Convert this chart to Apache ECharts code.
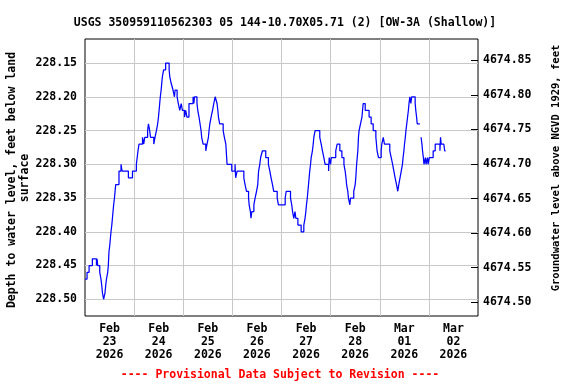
<!DOCTYPE html>
<html>
<head>
<meta charset="utf-8">
<script src="https://cdn.jsdelivr.net/npm/echarts@6/dist/echarts.min.js"></script>
<style>
html,body{margin:0;padding:0;background:#fff;}
#chart{width:576px;height:384px;}
</style>
</head>
<body>
<div id="chart"></div>
<script>
// Hours since 2026-02-23 00:00 and depth to water level (ft below land surface); null = data gap
const hours = [0,1.0,2.0,3.6,5.6,5.9,6.2,7.2,7.8,8.2,8.5,9.1,9.8,10.1,10.5,11.1,11.4,11.7,12.1,12.4,12.7,13.1,13.4,13.7,14.0,14.4,14.7,15.0,16.6,17.6,18.1,21.2,23.2,25.1,25.5,25.9,26.4,28.1,28.7,29.2,30.6,31.0,31.6,32.0,33.6,34.2,34.9,35.5,35.9,36.2,36.5,36.8,37.2,37.5,37.8,38.4,39.4,41.1,41.4,42.1,43.0,43.7,44.0,45.0,45.6,46.3,47.0,47.6,48.6,49.2,49.8,50.8,52.8,53.2,53.5,54.7,55.1,55.7,56.2,56.7,57.0,57.7,59.0,59.6,60.3,60.6,61.0,61.6,62.3,62.9,63.6,64.5,64.9,65.2,65.8,67.5,68.1,68.8,69.0,69.2,69.4,71.7,73.3,73.6,74.3,77.6,78.2,78.9,79.9,80.2,80.8,81.1,81.5,82.5,83.1,83.8,84.4,84.6,84.8,85.4,85.8,86.7,88.3,89.6,90.3,90.9,91.6,92.2,93.9,94.5,97.8,98.3,100.4,101.0,101.4,102.0,102.6,103.0,104.0,105.6,106.9,107.5,107.9,108.2,108.6,108.9,109.2,109.5,109.8,110.2,110.5,111.1,111.5,111.8,112.4,114.7,115.4,116.0,116.7,117.3,119.0,119.3,120.0,120.3,122.5,123.2,124.5,125.5,126.5,127.1,127.5,127.8,128.4,128.7,129.4,129.7,131.3,132.0,132.3,132.7,133.0,133.3,133.6,133.9,134.6,135.3,135.6,135.9,136.9,138.8,139.8,140.8,142.1,142.4,142.7,143.4,144.7,145.0,145.7,146.3,148.9,149.6,150.3,150.9,151.5,152.2,152.8,153.3,153.9,154.5,155.1,155.4,155.8,156.1,156.5,156.8,157.2,157.6,158.0,158.3,158.7,159.2,159.6,161.3,161.6,162.0,162.3,163.0,163.6,164.2,164.6,164.9,165.3,165.6,166.3,166.6,167.3,167.6,168.2,170.1,171.1,173.4,173.7,174.0,175.3,175.7,176.2];
const depth = [228.47,228.46,228.45,228.44,228.45,228.44,228.45,228.46,228.47,228.48,228.49,228.50,228.49,228.48,228.47,228.46,228.45,228.43,228.42,228.41,228.40,228.39,228.38,228.37,228.36,228.35,228.34,228.33,228.31,228.30,228.31,228.32,228.31,228.30,228.29,228.28,228.27,228.26,228.27,228.26,228.25,228.24,228.25,228.26,228.27,228.26,228.25,228.24,228.23,228.22,228.21,228.20,228.19,228.18,228.17,228.16,228.15,228.16,228.17,228.18,228.19,228.20,228.19,228.20,228.21,228.22,228.21,228.22,228.23,228.22,228.23,228.21,228.20,228.21,228.20,228.21,228.22,228.23,228.24,228.25,228.26,228.27,228.28,228.27,228.26,228.25,228.24,228.23,228.22,228.21,228.20,228.21,228.22,228.23,228.24,228.25,228.26,228.27,228.28,228.29,228.30,228.31,228.30,228.32,228.31,228.32,228.33,228.34,228.35,228.36,228.37,228.38,228.37,228.36,228.35,228.34,228.33,228.32,228.31,228.30,228.29,228.28,228.29,228.30,228.31,228.32,228.33,228.34,228.35,228.36,228.35,228.34,228.35,228.36,228.37,228.38,228.37,228.38,228.39,228.40,228.39,228.38,228.37,228.36,228.35,228.34,228.33,228.32,228.31,228.30,228.29,228.28,228.27,228.26,228.25,228.26,228.27,228.28,228.29,228.30,228.31,228.29,228.30,228.29,228.28,228.27,228.28,228.29,228.30,228.31,228.32,228.33,228.34,228.35,228.36,228.35,228.34,228.33,228.32,228.30,228.29,228.28,228.26,228.25,228.24,228.23,228.22,228.21,228.22,228.23,228.24,228.25,228.26,228.27,228.28,228.29,228.28,228.27,228.26,228.27,228.28,228.29,228.30,228.31,228.32,228.33,228.34,228.33,228.32,228.31,228.30,228.29,228.28,228.27,228.26,228.25,228.24,228.23,228.22,228.21,228.20,228.21,228.20,228.21,228.22,228.23,228.24,228.24,null,228.26,228.27,228.28,228.29,228.30,228.29,228.30,228.29,228.30,228.29,228.28,228.27,228.28,228.26,228.27,228.27,228.28,228.28];

const leftTicks = [228.15,228.20,228.25,228.30,228.35,228.40,228.45,228.50];
const rightTicks = [4674.50,4674.55,4674.60,4674.65,4674.70,4674.75,4674.80,4674.85];
const dayLines = [24,48,72,96,120,144,168];
const dateLabelPos = [12,36,60,84,108,132,156,180];
const dateLabels = ['Feb\n23\n2026','Feb\n24\n2026','Feb\n25\n2026','Feb\n26\n2026','Feb\n27\n2026','Feb\n28\n2026','Mar\n01\n2026','Mar\n02\n2026'];

const FONT = '"DejaVu Sans Mono", "Liberation Mono", monospace';
const chart = echarts.init(document.getElementById('chart'), null, {renderer: 'canvas'});
const data = hours.map((h, i) => [h, depth[i] === null ? '-' : depth[i]]);

chart.setOption({
  animation: false,
  backgroundColor: '#fff',
  title: {
    text: 'USGS 350959110562303 05 144-10.70X05.71 (2) [OW-3A (Shallow)]',
    left: 280, top: 12, textAlign: 'center',
    textStyle: {fontFamily: FONT, fontWeight: 'bold', fontSize: 11.5, color: '#000'}
  },
  grid: {left: 85, right: 98, top: 39, bottom: 68, show: true, borderColor: '#000', borderWidth: 1, backgroundColor: 'transparent'},
  xAxis: {
    type: 'value', min: 0, max: 192,
    axisLine: {show: false},
    axisTick: {show: true, length: 0, customValues: dayLines, lineStyle: {color: 'transparent'}},
    splitLine: {show: true, lineStyle: {color: '#c8c8c8', width: 1}},
    axisLabel: {
      customValues: dateLabelPos, margin: 7,
      fontFamily: FONT, fontWeight: 'bold', fontSize: 11.5, lineHeight: 13, color: '#000',
      formatter: v => dateLabels[Math.round((v - 12) / 24)] || ''
    }
  },
  yAxis: [
    {
      type: 'value', inverse: true, min: 228.1144, max: 228.5248, position: 'left',
      axisLine: {show: false},
      axisTick: {show: true, length: 0, customValues: leftTicks, lineStyle: {color: 'transparent'}},
      splitLine: {show: true, lineStyle: {color: '#c8c8c8', width: 1}},
      axisLabel: {customValues: leftTicks, margin: 8, fontFamily: FONT, fontWeight: 'bold', fontSize: 11.5, color: '#000', formatter: v => v.toFixed(2)}
    },
    {
      type: 'value', min: 4674.4801, max: 4674.881, position: 'right',
      axisLine: {show: false},
      axisTick: {show: true, inside: true, length: 7, customValues: rightTicks, lineStyle: {color: '#000', width: 1}},
      splitLine: {show: false},
      axisLabel: {customValues: rightTicks, margin: 5, fontFamily: FONT, fontWeight: 'bold', fontSize: 11.5, color: '#000', formatter: v => v.toFixed(2)}
    }
  ],
  series: [{
    type: 'line', xAxisIndex: 0, yAxisIndex: 0,
    data: data, step: 'end', showSymbol: false, symbol: 'none',
    connectNulls: false,
    lineStyle: {color: '#0000ff', width: 1.25},
    itemStyle: {color: '#0000ff'}
  }],
  graphic: [
    {type: 'text', x: 12, y: 180, rotation: Math.PI / 2,
     style: {text: 'Depth to water level, feet below land', align: 'center', verticalAlign: 'middle', font: 'bold 11.5px ' + FONT, fill: '#000'}},
    {type: 'text', x: 25, y: 178, rotation: Math.PI / 2,
     style: {text: 'surface', align: 'center', verticalAlign: 'middle', font: 'bold 11.5px ' + FONT, fill: '#000'}},
    {type: 'text', x: 556, y: 168, rotation: Math.PI / 2,
     style: {text: 'Groundwater level above NGVD 1929, feet', align: 'center', verticalAlign: 'middle', font: 'bold 10.5px ' + FONT, fill: '#000'}},
    {type: 'text', x: 280, y: 375,
     style: {text: '---- Provisional Data Subject to Revision ----', align: 'center', verticalAlign: 'middle', font: 'bold 11.5px ' + FONT, fill: '#ff0000'}}
  ]
});
</script>
</body>
</html>
